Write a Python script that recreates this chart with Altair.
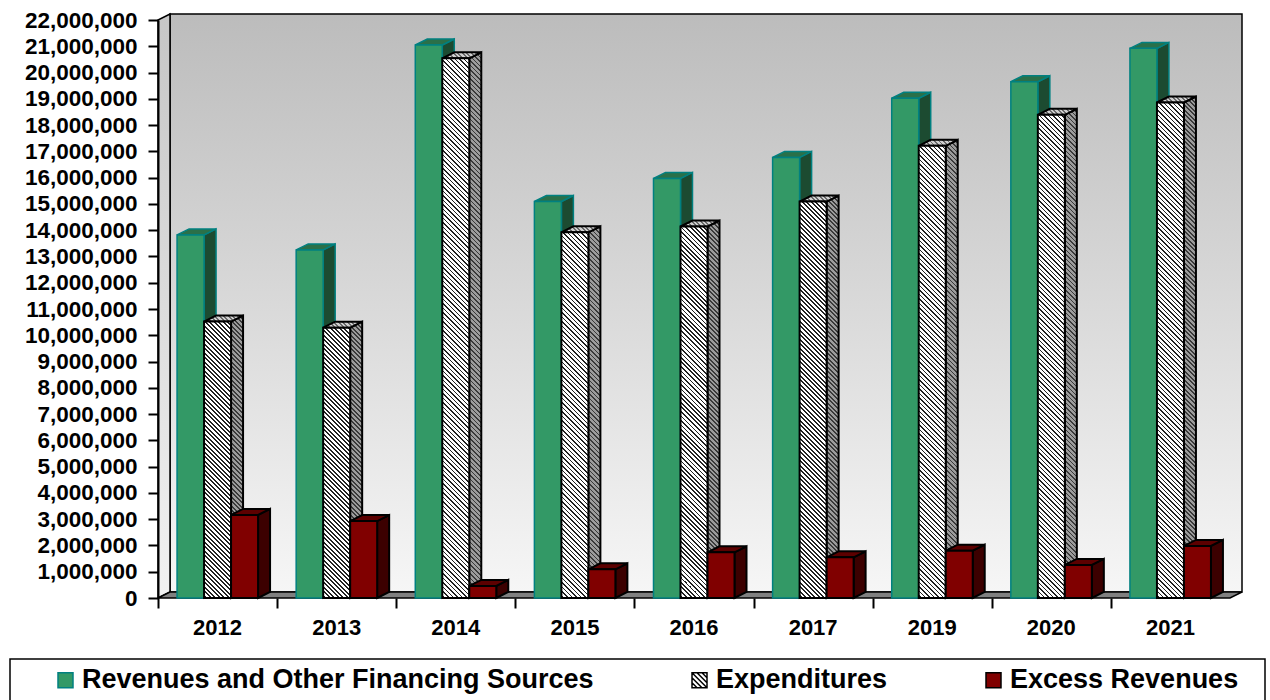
import altair as alt
import pandas as pd

# ---------------- data ----------------
years = ["2012", "2013", "2014", "2015", "2016", "2017", "2019", "2020", "2021"]
revenues = [13_820_000, 13_250_000, 21_050_000, 15_090_000, 15_970_000,
            16_770_000, 19_020_000, 19_650_000, 20_920_000]
expenditures = [10_520_000, 10_290_000, 20_540_000, 13_920_000, 14_140_000,
                15_090_000, 17_210_000, 18_390_000, 18_860_000]
excess = [3_160_000, 2_930_000, 460_000, 1_090_000, 1_740_000,
          1_550_000, 1_800_000, 1_260_000, 1_980_000]
series_names = ["Revenues and Other Financing Sources", "Expenditures", "Excess Revenues"]
y_ticks = list(range(0, 22_000_001, 1_000_000))

# ---------------- geometry helpers ----------------
W, H = 1072, 578
YMAX = 22_000_000
NCAT = len(years)
PX_X = W / NCAT
PX_Y = H / YMAX
DEPTH_PX, RISE_PX = 12, 6
DX = DEPTH_PX / PX_X
DY = RISE_PX / PX_Y
BAR_PX = 27
BW = BAR_PX / PX_X
OFF = (1 - 3 * BW) / 2

xs = alt.Scale(domain=[0, NCAT], nice=False, zero=False)
ys = alt.Scale(domain=[0, YMAX], nice=False, zero=True)

y_axis = alt.Axis(values=y_ticks, format=",d", labelFont="Liberation Sans", labelFontWeight="bold",
                  labelFontSize=22.5, labelColor="black", tickSize=10, tickWidth=2, tickColor="black",
                  domainColor="black", domainWidth=2, labelPadding=11, labelOverlap=False,
                  labelFlush=False, grid=False, title=None, zindex=1)
x_axis = alt.Axis(values=list(range(0, NCAT)), labels=False, tickSize=10, tickWidth=2,
                  tickColor="black", domain=False, grid=False, title=None, zindex=1)


def X(f="x"):
    return alt.X(f"{f}:Q", scale=xs, axis=x_axis)


def Y(f="y"):
    return alt.Y(f"{f}:Q", scale=ys, axis=y_axis, stack=None)


def hatch(w, h, light, dark, period=4.5, line=1.7, k=1.25):
    D = k * (w * w / h + h)
    smax = w + h

    def off(v):
        return round(min(max(v / D, 0.0), 1.0), 6)

    stops = [{"offset": 0, "color": light}]
    s = period * 0.4
    while s < smax:
        a, b = s, s + line
        stops += [{"offset": off(a), "color": light}, {"offset": off(a), "color": dark},
                  {"offset": off(b), "color": dark}, {"offset": off(b), "color": light}]
        s += period
    stops.append({"offset": 1, "color": light})
    return {"gradient": "linear", "x1": 0, "y1": 1, "x2": k * w / h, "y2": 1 - k, "stops": stops}


def faces(values, s_idx):
    fr, tp, sd = [], [], []
    for i, v in enumerate(values):
        L = i + OFF + s_idx * BW
        R = L + BW
        fr.append(dict(id=i, x=L, x2=R, y=0, y2=v))
        tp += [dict(id=i, x=L, y=v, y2=v), dict(id=i, x=L + DX, y=v, y2=v + DY),
               dict(id=i, x=R, y=v, y2=v + DY), dict(id=i, x=R + DX, y=v + DY, y2=v + DY)]
        sd += [dict(id=i, x=R, y=0, y2=v), dict(id=i, x=R + DX, y=DY, y2=v + DY)]
    return pd.DataFrame(fr), pd.DataFrame(tp), pd.DataFrame(sd)


layers = []

# ---------------- legend carrier (hidden behind the back wall) ----------------
hatch_path = ("M-1,-1H1V1H-1Z M-0.33,-1L1,0.33 M0.33,-1L1,-0.33 M-1,-1L1,1 "
              "M-1,-0.33L0.33,1 M-1,0.33L-0.33,1")
leg = alt.Legend(title=None, orient="none", legendX=-106, legendY=646.5, direction="horizontal",
                 labelFont="Liberation Sans", labelFontWeight="bold", labelFontSize=27,
                 labelColor="black", labelLimit=2000, symbolSize=225, symbolStrokeWidth=1.5,
                 labelOffset=3, columnPadding=92, padding=0)
legend_df = pd.DataFrame({"series": series_names, "x": [4.5] * 3, "y": [11_000_000] * 3})
layers.append(
    alt.Chart(legend_df).mark_point(filled=True, size=100, opacity=1).encode(
        x=X(), y=Y(),
        fill=alt.Fill("series:N", scale=alt.Scale(domain=series_names,
                                                  range=["#339966", "#ffffff", "#800000"]), legend=leg),
        stroke=alt.Stroke("series:N", scale=alt.Scale(domain=series_names,
                                                      range=["#008080", "#000000", "#000000"]), legend=leg),
        shape=alt.Shape("series:N", scale=alt.Scale(domain=series_names,
                                                    range=["square", hatch_path, "square"]), legend=leg),
    )
)

# ---------------- walls and floor ----------------
wall_df = pd.DataFrame([dict(x=DX, x2=NCAT + DX, y=DY, y2=YMAX + DY)])
layers.append(
    alt.Chart(wall_df).mark_rect(
        fill={"gradient": "linear", "x1": 0, "y1": 0, "x2": 0, "y2": 1,
              "stops": [{"offset": 0, "color": "#bcbcbc"}, {"offset": 1, "color": "#f6f6f6"}]},
        stroke="black", strokeWidth=1.5,
    ).encode(x=X(), x2=alt.X2("x2:Q"), y=Y(), y2=alt.Y2("y2:Q"))
)

side_wall_df = pd.DataFrame([dict(x=0, y=0, y2=YMAX), dict(x=DX, y=DY, y2=YMAX + DY)])
layers.append(
    alt.Chart(side_wall_df).mark_area(
        fill={"gradient": "linear", "x1": 0, "y1": 0, "x2": 0, "y2": 1,
              "stops": [{"offset": 0, "color": "#c6c6c6"}, {"offset": 1, "color": "#f2f2f2"}]},
        stroke="black", strokeWidth=1.5,
    ).encode(x=X(), y=Y(), y2=alt.Y2("y2:Q"))
)

floor_df = pd.DataFrame([dict(x=0, y=0, y2=0), dict(x=DX, y=0, y2=DY),
                         dict(x=NCAT, y=0, y2=DY), dict(x=NCAT + DX, y=DY, y2=DY)])
layers.append(
    alt.Chart(floor_df).mark_area(fill="#808080", stroke="black", strokeWidth=1.5).encode(
        x=X(), y=Y(), y2=alt.Y2("y2:Q"))
)

# ---------------- bars ----------------
def solid_series(values, s_idx, front, top, side, stroke, sw):
    fr, tp, sd = faces(values, s_idx)
    out = []
    out.append(alt.Chart(sd).mark_area(fill=side, stroke=stroke, strokeWidth=sw).encode(
        x=X(), y=Y(), y2=alt.Y2("y2:Q"), detail="id:N"))
    out.append(alt.Chart(tp).mark_area(fill=top, stroke=stroke, strokeWidth=sw).encode(
        x=X(), y=Y(), y2=alt.Y2("y2:Q"), detail="id:N"))
    out.append(alt.Chart(fr).mark_rect(fill=front, stroke=stroke, strokeWidth=sw).encode(
        x=X(), x2=alt.X2("x2:Q"), y=Y(), y2=alt.Y2("y2:Q")))
    return out


layers += solid_series(revenues, 0, "#339966", "#2a7049", "#1c4b31", "#008080", 1.5)

# expenditures: hatched faces
fr, tp, sd = faces(expenditures, 1)
for i, v in enumerate(expenditures):
    h_px = v * PX_Y
    layers.append(alt.Chart(sd[sd.id == i]).mark_area(
        fill=hatch(DEPTH_PX, h_px + RISE_PX, "#9c9c9c", "#3a3a3a", period=4.5, line=1.8),
        stroke="black", strokeWidth=2).encode(x=X(), y=Y(), y2=alt.Y2("y2:Q")))
for i, v in enumerate(expenditures):
    layers.append(alt.Chart(tp[tp.id == i]).mark_area(
        fill=hatch(BAR_PX + DEPTH_PX, RISE_PX, "#d0d0d0", "#6a6a6a", period=4.5, line=1.8),
        stroke="black", strokeWidth=2).encode(x=X(), y=Y(), y2=alt.Y2("y2:Q")))
for i, v in enumerate(expenditures):
    h_px = v * PX_Y
    layers.append(alt.Chart(fr[fr.id == i]).mark_rect(
        fill=hatch(BAR_PX, h_px, "#ffffff", "#222222", period=4.5, line=1.7),
        stroke="black", strokeWidth=2).encode(
        x=X(), x2=alt.X2("x2:Q"), y=Y(), y2=alt.Y2("y2:Q")))

layers += solid_series(excess, 2, "#800000", "#5c0000", "#3c0000", "black", 2)

# ---------------- category labels ----------------
cat_df = pd.DataFrame({"year": years, "pos": [i + 0.5 for i in range(NCAT)]})
layers.append(
    alt.Chart(cat_df).mark_text(font="Liberation Sans", fontWeight="bold", fontSize=22,
                                color="black", baseline="middle", align="center").encode(
        x=X("pos"), y=alt.value(607.5), text="year:N")
)

# ---------------- legend frame ----------------
layers.append(
    alt.Chart(pd.DataFrame({"a": [0]})).mark_rect(filled=False, stroke="black", strokeWidth=1.5).encode(
        x=alt.value(-148), x2=alt.value(1107), y=alt.value(639), y2=alt.value(700))
)

chart = alt.layer(*layers).properties(
    width=W, height=H,
    padding={"left": 158, "top": 20, "right": 40, "bottom": 102},
    autosize=alt.AutoSizeParams(type="none"),
    background="white",
).configure_view(stroke=None)

chart.save("out.html", embed_options={"renderer": "svg", "actions": False})
